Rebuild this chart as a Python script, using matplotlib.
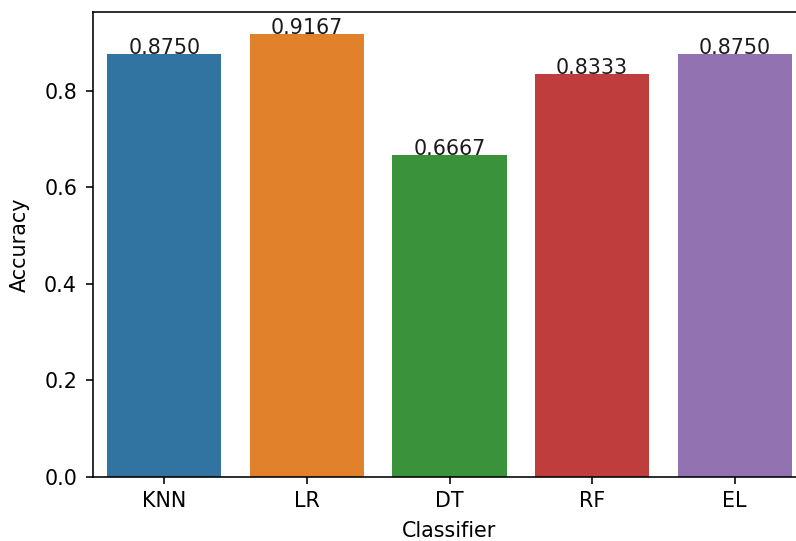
import matplotlib
matplotlib.use("Agg")
import matplotlib.pyplot as plt

classifiers = ["KNN", "LR", "DT", "RF", "EL"]
accuracy = [0.8750, 0.9167, 0.6667, 0.8333, 0.8750]
colors = ["#3274a1", "#e1812c", "#3a923a", "#c03d3e", "#9372b2"]

plt.rcParams['font.family'] = ['DejaVu Sans']
plt.rcParams['font.size'] = 10.3
DPI = 144
W, H = 796, 541
fig = plt.figure(figsize=(W / DPI, H / DPI), dpi=DPI)
left, right, top, bottom = 93, 806, 12, 477
ax = fig.add_axes([left / W, 1 - bottom / H, (right - left) / W, (bottom - top) / H])
x = range(len(classifiers))
ax.bar(x, accuracy, width=0.8, color=colors)
ax.set_xticks(list(x))
ax.set_xticklabels(classifiers)
ax.set_xlim(-0.5, len(classifiers) - 0.5)
ax.set_ylim(0, max(accuracy) * 1.05)
ax.tick_params(axis='y', pad=4.5)
ax.set_xlabel("Classifier", labelpad=5)
ax.set_ylabel("Accuracy", labelpad=7)
for i, v in enumerate(accuracy):
    ax.text(i, v, f"{v:.4f}", ha='center', va='baseline', color='#1a1a1a')
fig.savefig("out.png", dpi=DPI)
